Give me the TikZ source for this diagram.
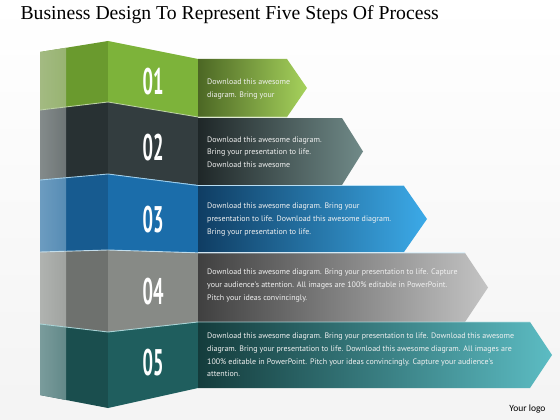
\documentclass[tikz,border=0pt]{standalone}
\usepackage{fontspec}
\usepackage{graphicx}
\setmainfont{Liberation Serif}
\newfontfamily\txtfont{PT Sans}
\newfontfamily\logofont{Carlito}

% block colours: front face, side face, side strip, arrow (dark/light), edge line
\definecolor{frontA}{HTML}{7DB33A}
\definecolor{sideA}{HTML}{6A9A2E}
\definecolor{stripA}{HTML}{A3BA82}
\definecolor{arrowA}{HTML}{4C6724}
\definecolor{arrowAl}{HTML}{A6D25C}
\definecolor{frontB}{HTML}{333D3F}
\definecolor{sideB}{HTML}{283133}
\definecolor{stripB}{HTML}{848B8B}
\definecolor{arrowB}{HTML}{1F2728}
\definecolor{arrowBl}{HTML}{708A88}
\definecolor{frontC}{HTML}{1B6DAA}
\definecolor{sideC}{HTML}{175B90}
\definecolor{stripC}{HTML}{6C9CC0}
\definecolor{arrowC}{HTML}{0F3D63}
\definecolor{arrowCl}{HTML}{3CAAE8}
\definecolor{frontD}{HTML}{878A86}
\definecolor{sideD}{HTML}{6E716E}
\definecolor{stripD}{HTML}{B0B3B0}
\definecolor{arrowD}{HTML}{404040}
\definecolor{arrowDl}{HTML}{C4C4C4}
\definecolor{frontE}{HTML}{1F5E5E}
\definecolor{sideE}{HTML}{1A4E4E}
\definecolor{stripE}{HTML}{7A9C9C}
\definecolor{arrowE}{HTML}{143C3C}
\definecolor{arrowEl}{HTML}{5CBCC3}

\begin{document}
\begin{tikzpicture}[x=1pt, y=-1pt,
    num/.style={text=white, font=\txtfont\bfseries\fontsize{37}{37}\selectfont, inner sep=0pt},
    txt/.style={anchor=west, align=left, inner sep=0pt, text=white!90!gray,
                font=\txtfont\fontsize{7.95}{12.6}\selectfont},
    edge/.style={line width=0.9pt, opacity=0.85}]
    \useasboundingbox (0,0) rectangle (560,420);
    \shade[top color=white, bottom color=gray!9] (0,0) rectangle (560,420);

    % === TITLE ===
    \node[anchor=base west, font=\fontsize{19.7}{20}\selectfont] (title) at (17,20)
        {Business Design To Represent Five Steps Of Process};

    % === STEP 01 (green) ===
    \fill[sideA] (40,52) -- (108,41) -- (108,102) -- (40,110) -- cycle;
    \shade[left color=stripA, right color=stripA!80!sideA] (40,52) -- (66,47.8) -- (66,106.9) -- (40,110) -- cycle;
    \fill[frontA] (108,41) -- (198,59) -- (198,117) -- (108,102) -- cycle;
    \shade[left color=arrowA, right color=arrowAl] (198,59) -- (287,59) -- (307,88) -- (287,117) -- (198,117) -- cycle;
    \node[num] (n1) at (153,82) {\scalebox{0.5}[1]{01}};
    \node[txt] (t1) at (207,89) {Download this awesome\\diagram. Bring your};

    % === STEP 02 (slate) ===
    \fill[sideB] (40,110) -- (108,102) -- (108,174) -- (40,180) -- cycle;
    \shade[left color=stripB, right color=stripB!75!sideB] (40,110) -- (66,106.9) -- (66,177.7) -- (40,180) -- cycle;
    \fill[frontB] (108,102) -- (198,117) -- (198,185) -- (108,174) -- cycle;
    \shade[left color=arrowB, right color=arrowBl] (198,118) -- (342,118) -- (363,151.5) -- (342,185) -- (198,185) -- cycle;
    \draw[edge, frontA!40!white] (40,110) -- (108,102) -- (198,117) -- (287,117);
    \node[num] (n2) at (153,148) {\scalebox{0.5}[1]{02}};
    \node[txt] (t2) at (207,152) {Download this awesome diagram.\\Bring your presentation to life.\\Download this awesome};

    % === STEP 03 (blue) ===
    \fill[sideC] (40,180) -- (108,174) -- (108,250) -- (40,252) -- cycle;
    \shade[left color=stripC, right color=stripC!75!sideC] (40,180) -- (66,177.7) -- (66,251.2) -- (40,252) -- cycle;
    \fill[frontC] (108,174) -- (198,185) -- (198,253) -- (108,250) -- cycle;
    \shade[left color=arrowC, right color=arrowCl] (198,186) -- (404,186) -- (427,219) -- (404,252) -- (198,252) -- cycle;
    \draw[edge, arrowCl!40!white] (40,180) -- (108,174) -- (198,185.5) -- (404,185.5);
    \node[num] (n3) at (153,220) {\scalebox{0.5}[1]{03}};
    \node[txt] (t3) at (207,219.5) {Download this awesome diagram. Bring your\\presentation to life. Download this awesome diagram.\\Bring your presentation to life.};

    % === STEP 04 (grey) ===
    \fill[sideD] (40,252) -- (108,250) -- (108,332) -- (40,324) -- cycle;
    \shade[left color=stripD, right color=stripD!75!sideD] (40,252) -- (66,251.2) -- (66,327.1) -- (40,324) -- cycle;
    \fill[frontD] (108,250) -- (198,253) -- (198,322) -- (108,332) -- cycle;
    \shade[left color=arrowD, right color=arrowDl] (198,253) -- (465,253) -- (488,287.5) -- (465,322) -- (198,322) -- cycle;
    \draw[edge, arrowCl!25!white] (40,252) -- (108,250) -- (198,252.8) -- (465,252.8);
    \node[num] (n4) at (153,292) {\scalebox{0.5}[1]{04}};
    \node[txt] (t4) at (207,285.5) {Download this awesome diagram. Bring your presentation to life. Capture\\your audience's attention. All images are 100\% editable in PowerPoint.\\Pitch your ideas convincingly.};

    % === STEP 05 (teal) ===
    \fill[sideE] (40,324) -- (108,332) -- (108,408) -- (40,395) -- cycle;
    \shade[left color=stripE, right color=stripE!75!sideE] (40,324) -- (66,327.1) -- (66,400) -- (40,395) -- cycle;
    \fill[frontE] (108,332) -- (198,322) -- (198,388) -- (108,408) -- cycle;
    \shade[left color=arrowE, right color=arrowEl] (198,322) -- (530,322) -- (552,355) -- (530,388) -- (198,388) -- cycle;
    \draw[edge, arrowEl!45!white] (40,324) -- (108,332) -- (198,322) -- (530,322);
    \node[num] (n5) at (153,363) {\scalebox{0.5}[1]{05}};
    \node[txt] (t5) at (207,355) {Download this awesome diagram. Bring your presentation to life. Download this awesome\\diagram. Bring your presentation to life. Download this awesome diagram. All images are\\100\% editable in PowerPoint. Pitch your ideas convincingly. Capture your audience's\\attention.};

    % === LOGO ===
    \node[anchor=base east, font=\logofont\fontsize{9.5}{10}\selectfont] (logo) at (549,411) {Your logo};
\end{tikzpicture}
\end{document}
